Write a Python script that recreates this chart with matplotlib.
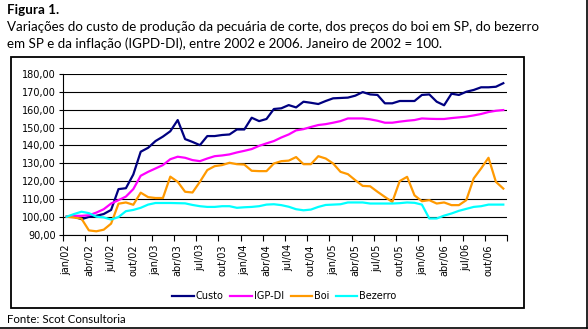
import numpy as np
import matplotlib
matplotlib.use("Agg")
import matplotlib.pyplot as plt
from matplotlib.patches import Rectangle
from matplotlib.lines import Line2D
from matplotlib.ticker import FuncFormatter

# índices mensais, jan/02 a dez/06 (jan/02 = 100)
custo = [100, 100, 98.6, 99.9, 100.5, 101.5, 103.8, 115.5, 116, 123.7,
         136.5, 138.7, 142.5, 145, 148, 154.3, 143.6, 142, 140.2, 145.3,
         145.3, 145.9, 146.2, 149, 149, 155.6, 153.7, 154.9, 160.5, 160.9,
         162.7, 161.4, 164.6, 164, 163.3, 165, 166.5, 166.7, 166.9, 168,
         170, 168.7, 168.4, 163.7, 163.7, 165, 165, 165, 168.4, 168.7,
         164.6, 162.6, 169.1, 168.4, 170.2, 171.2, 172.7, 172.7, 173, 175]
igp_di = [100, 100.5, 100.5, 100.8, 102.3, 104.2, 107.4, 109.3, 111.3, 115.5,
          123, 125.2, 127.1, 129, 132.3, 133.7, 133.1, 131.8, 131.2, 132.7,
          134, 134.4, 135, 136.1, 137, 138, 139.8, 141.2, 142.5, 144.5,
          146.2, 148.5, 149.2, 150.4, 151.5, 152, 152.8, 153.7, 155.2, 155.2,
          155.2, 154.7, 153.9, 152.8, 152.8, 153.4, 153.9, 154.3, 155.2, 155,
          154.9, 154.9, 155.4, 155.8, 156.2, 156.9, 157.7, 158.8, 159.5, 159.9]
boi = [100, 99.5, 98.9, 92.3, 91.8, 92.7, 96.1, 107.3, 108, 106.7,
       113.5, 111, 110.5, 110.5, 122.5, 119.6, 114, 113.6, 119.6, 126.2,
       128.4, 129, 130.3, 129.5, 129.3, 125.8, 125.6, 125.6, 129.9, 131.2,
       131.5, 133.5, 129.5, 129.5, 134, 132.7, 129.9, 125.2, 123.9, 120.5,
       117.3, 117.1, 114, 111.1, 108.3, 120, 122.4, 112, 108.7, 109.3,
       107.4, 108, 106.5, 106.5, 109.3, 121.5, 127.1, 133.1, 119.6, 115.8]
bezerro = [100, 101.5, 102.8, 102, 100, 99.6, 98.4, 99.8, 103.1, 103.8,
           105, 106.8, 107.7, 107.7, 107.7, 107.6, 107.5, 106.6, 105.9, 105.5,
           105.5, 105.9, 105.9, 105, 105.3, 105.5, 105.9, 106.8, 107, 106.5,
           105.6, 104.2, 103.6, 104, 105.5, 106.6, 106.8, 107, 108, 108,
           108, 107.4, 107.4, 107.4, 107.4, 107.6, 108, 107.8, 106.8, 99,
           99, 100.6, 101.8, 103.3, 104.4, 105.5, 105.9, 106.8, 106.8, 106.8]

series_names = ["Custo", "IGP-DI", "Boi", "Bezerro"]
series_colors = ["#000080", "#FF00FF", "#FF9900", "#00FFFF"]
tick_labels = [f"{m}/{a:02d}" for a in range(2, 7) for m in ["jan", "abr", "jul", "out"]]

W, H = 588, 329


def fx(px):
    return px / W


def fy(py):
    return 1 - py / H


fig = plt.figure(figsize=(W / 100, H / 100), dpi=100)
txt_font = ["Lato", "DejaVu Sans"]

fig.text(fx(7), fy(14), "Figura 1.", fontsize=9.6, fontweight="bold", family=txt_font, va="baseline")
fig.text(fx(7), fy(31), "Variações do custo de produção da pecuária de corte, dos preços do boi em SP, do bezerro",
         fontsize=9.6, family=txt_font, va="baseline")
fig.text(fx(7), fy(48), "em SP e da inflação (IGPD-DI), entre 2002 e 2006. Janeiro de 2002 = 100.",
         fontsize=9.6, family=txt_font, va="baseline")
fig.text(fx(7), fy(323), "Fonte: Scot Consultoria", fontsize=8.3, family=txt_font, va="baseline")

# moldura do gráfico e linhas externas
fig.patches.append(Rectangle((fx(11), fy(308)), fx(513), 251 / H, fill=False,
                             edgecolor="black", lw=1.3, transform=fig.transFigure, figure=fig))
fig.lines.append(Line2D([0, fx(587)], [fy(327.5), fy(327.5)], color="black", lw=1.2,
                        transform=fig.transFigure, figure=fig))
fig.lines.append(Line2D([fx(586.5), fx(586.5)], [fy(327.5), 1], color="black", lw=1.2,
                        transform=fig.transFigure, figure=fig))

ax = fig.add_axes([fx(63), fy(234.5), 444 / W, 160.2 / H])
x = np.arange(len(custo)) + 0.5
handles = []
for vals, name, col in zip([custo, igp_di, boi, bezerro], series_names, series_colors):
    h, = ax.plot(x, vals, color=col, lw=1.6, label=name)
    handles.append(h)

ax.set_xlim(0, 60)
ax.set_ylim(90, 180)
ax.set_yticks(np.arange(90, 181, 10))
ax.yaxis.set_major_formatter(FuncFormatter(lambda v, p: f"{v:.2f}".replace(".", ",")))
ax.yaxis.grid(True, color="black", lw=0.8)
ax.set_axisbelow(True)
for s in ["top", "right"]:
    ax.spines[s].set_visible(False)
for s in ["left", "bottom"]:
    ax.spines[s].set_linewidth(0.8)

ax.set_xticks(np.arange(0, 61, 3))
ax.set_xticklabels([])
ax.set_xticks(np.arange(0, 60, 3) + 0.5, minor=True)
ax.set_xticklabels(tick_labels, minor=True, rotation=90)
ax.tick_params(axis="x", which="major", length=4, width=0.8)
ax.tick_params(axis="x", which="minor", length=0, labelsize=7, pad=7)
ax.tick_params(axis="y", length=3, width=0.8, labelsize=7, pad=2)

fig.legend(handles, series_names, loc="center", bbox_to_anchor=(fx(284.5), fy(296)), ncol=4,
           frameon=False, fontsize=7, handlelength=2.2, handletextpad=0.2, columnspacing=0.7)

fig.savefig("out.png", dpi=100)
